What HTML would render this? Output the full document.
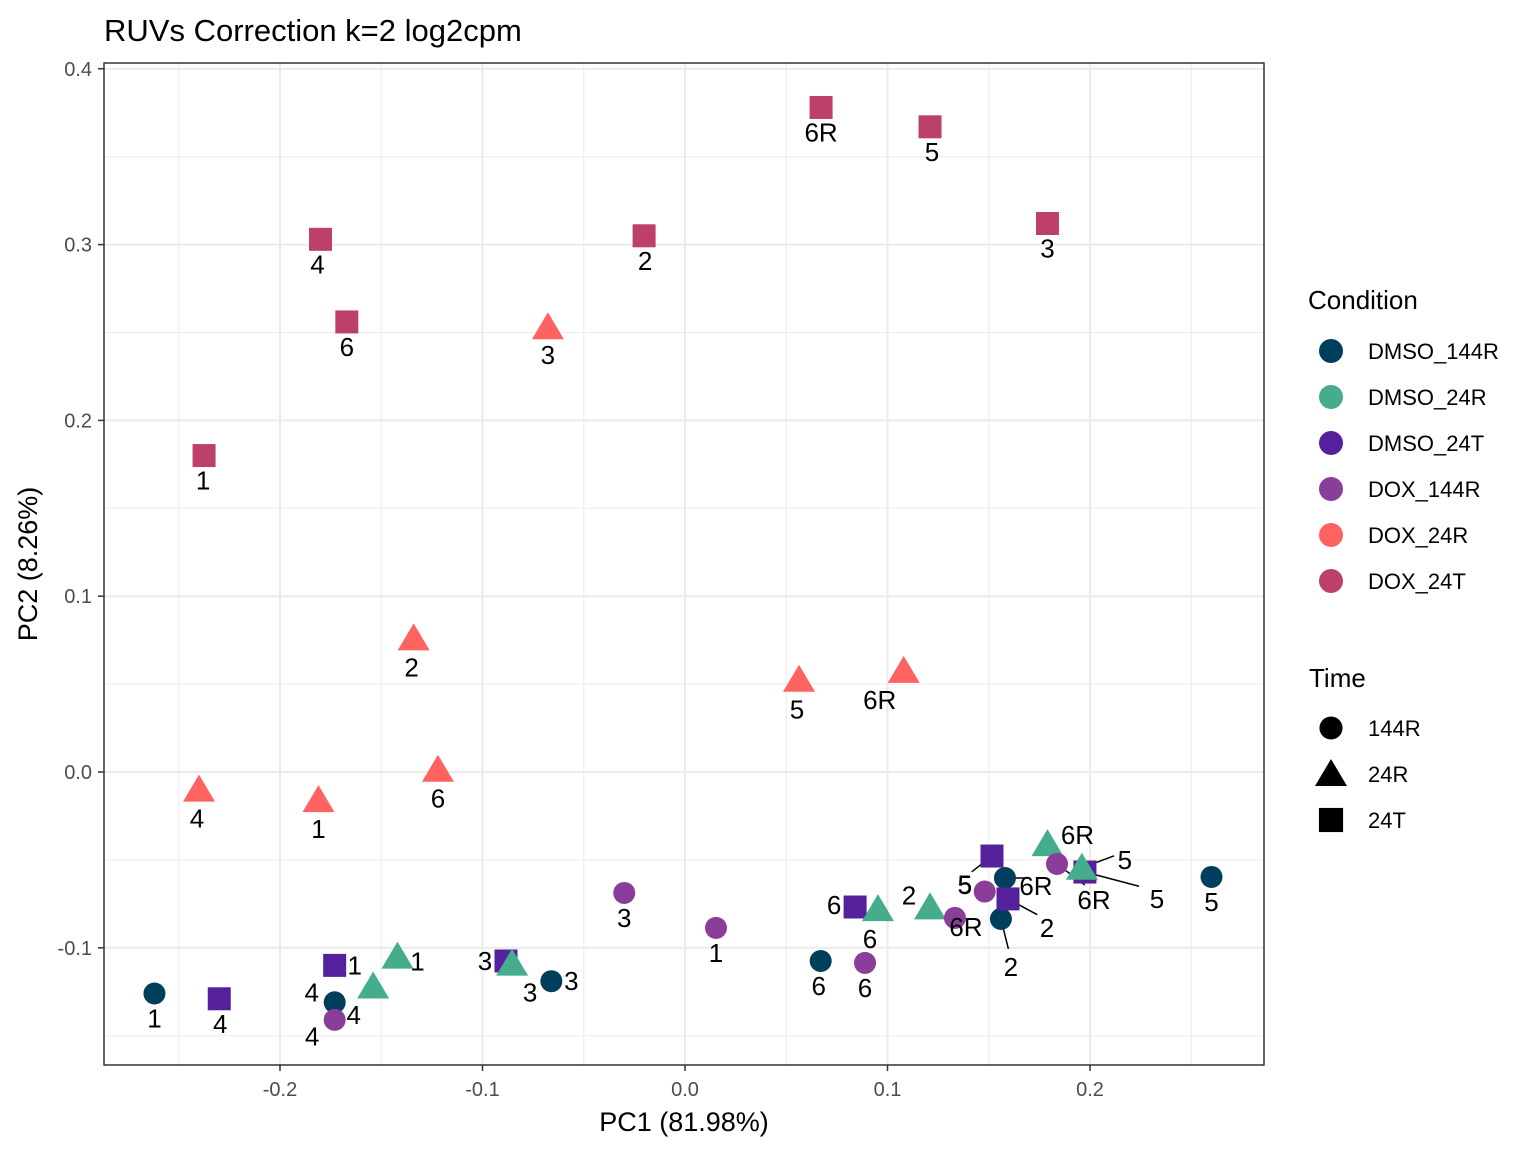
<!DOCTYPE html>
<html><head><meta charset="utf-8"><style>
body{margin:0;background:#fff}
svg{display:block;font-family:"Liberation Sans",Arial,sans-serif}
</style></head><body>
<svg id="chart" width="1536" height="1152" viewBox="0 0 1536 1152">
<rect x="0" y="0" width="1536" height="1152" fill="#fff"/>
<text x="104" y="41" font-size="31" fill="#000">RUVs Correction k=2 log2cpm</text>
<g id="grid"></g>
<g id="marks"></g>
<rect x="104" y="63" width="1160" height="1002" fill="none" stroke="#333" stroke-width="1.5"/>
<g id="axes"></g>
<text x="684" y="1131" font-size="27" text-anchor="middle">PC1 (81.98%)</text>
<text transform="translate(37,564) rotate(-90)" font-size="27" text-anchor="middle">PC2 (8.26%)</text>
<g id="legend"></g>
</svg>
<script>
const groups=["DMSO_144R","DMSO_24R","DMSO_24T","DOX_144R","DOX_24R","DOX_24T"];
const groupColors=["#003f5c","#45ac8e","#55209b","#8a3e9a","#ff6361","#bc4067"];
const times=["144R","24R","24T"];
const xTicks=[-0.2,-0.1,0.0,0.1,0.2];
const xTickLabels=["-0.2","-0.1","0.0","0.1","0.2"];
const yTicks=[0.4,0.3,0.2,0.1,0.0,-0.1];
const yTickLabels=["0.4","0.3","0.2","0.1","0.0","-0.1"];
const ptGroup=[5,5,5,5,5,5,5, 4,4,4,4,4,4,4, 0,0,0,0,0,0,0, 2,2,2,2,2,2,2, 1,1,1,1,1,1,1, 3,3,3,3,3,3,3];
const pc1=[0.0672,0.121,0.179,-0.0202,-0.180,-0.167,-0.2375,
 -0.0677,-0.134,0.0563,0.108,-0.240,-0.181,-0.122,
 -0.262,-0.173,-0.066,0.067,0.156,0.158,0.260,
 -0.173,-0.230,-0.0884,0.084,0.1516,0.1595,0.1975,
 -0.142,-0.154,-0.0854,0.0953,0.121,0.179,0.196,
 -0.173,-0.030,0.0153,0.0889,0.1333,0.148,0.1837];
const pc2=[0.378,0.367,0.312,0.305,0.303,0.256,0.180,
 0.253,0.076,0.0525,0.0575,-0.010,-0.016,0.0013,
 -0.126,-0.131,-0.119,-0.1075,-0.0836,-0.0603,-0.0597,
 -0.110,-0.129,-0.1075,-0.0768,-0.0478,-0.0722,-0.0569,
 -0.105,-0.122,-0.109,-0.078,-0.077,-0.041,-0.0545,
 -0.141,-0.0688,-0.0887,-0.1086,-0.083,-0.068,-0.0523];
const ptLabels=["6R","5","3","2","4","6","1",
 "3","2","5","6R","4","1","6",
 "1","4","3","6","2","6R","5",
 "1","4","3","6","5","2","5",
 "1","4","3","6","2","6R","5",
 "4","3","1","6","6R","5","6R"];
// label offsets (px) relative to mark centre, and whether a leader segment is drawn
const lblDX=[0,2,0,1,-3,0,-1, 0,-2,-2,-24,-2,0,0, 0,-23,20,-2,10,31,0, 20,1,-21,-21,-27,39,72, 20,-61,18,-8,-21,30,43, 19,0,0,0,11,-20,37];
const lblDY=[25,25,25,25,25,25,25, 28,29,30,29,29,29,29, 25,-10,0,25,48,8,25, 0,25,0,-2,29,29,27, 5,50,29,30,-12,-9,-8, -5,25,25,25,9,-7,36];
const lblSeg=[0,0,0,0,0,0,0, 0,0,0,0,0,0,0, 0,0,0,0,1,1,0, 0,0,0,0,1,1,1, 0,0,0,0,0,0,1, 0,0,0,0,1,0,1];
const NS="http://www.w3.org/2000/svg";
const sx=v=>685+v*2025;
const sy=v=>772-v*1758;
function mk(tag,attrs,parent){const e=document.createElementNS(NS,tag);for(const k in attrs)e.setAttribute(k,attrs[k]);parent.appendChild(e);return e;}
const grid=document.getElementById('grid'),axes=document.getElementById('axes'),marks=document.getElementById('marks'),legend=document.getElementById('legend');
for(let v=-0.25;v<=0.26;v+=0.1){const x=sx(v);if(x>104&&x<1264){const l=mk('line',{x1:x,x2:x,y1:63,y2:1065,stroke:'#ebebeb','stroke-width':1},grid);

}}
for(let v=-0.15;v<=0.36;v+=0.1){const y=sy(v);const l=mk('line',{x1:104,x2:1264,y1:y,y2:y,stroke:'#ebebeb','stroke-width':1},grid);

}
xTicks.forEach((v,i)=>{const x=sx(v);
const l=mk('line',{x1:x,x2:x,y1:63,y2:1065,stroke:'#ebebeb','stroke-width':2},grid);


const t=mk('line',{x1:x,x2:x,y1:1065,y2:1071,stroke:'#333','stroke-width':1.5},axes);


const tx=mk('text',{x:x,y:1096,'font-size':20,fill:'#4d4d4d','text-anchor':'middle'},axes);tx.textContent=xTickLabels[i];

});
yTicks.forEach((v,i)=>{const y=sy(v);
const l=mk('line',{x1:104,x2:1264,y1:y,y2:y,stroke:'#ebebeb','stroke-width':2},grid);


const t=mk('line',{x1:98,x2:104,y1:y,y2:y,stroke:'#333','stroke-width':1.5},axes);


const tx=mk('text',{x:92,y:y+7,'font-size':20,fill:'#4d4d4d','text-anchor':'end'},axes);tx.textContent=yTickLabels[i];

});
function shape(t,x,y,c,parent,s){s=s||1;let e;
if(t===0)e=mk('circle',{cx:x,cy:y,r:11*s,fill:c},parent);
else if(t===1)e=mk('polygon',{points:`${x},${y-15*s} ${x-16*s},${y+12*s} ${x+16*s},${y+12*s}`,fill:c},parent);
else e=mk('rect',{x:x-11.5*s,y:y-11.5*s,width:23*s,height:23*s,fill:c},parent);return e;}
const timeOf=g=>[0,1,2,0,1,2][g];
pc1.forEach((v,i)=>{if(!lblSeg[i])return;const x=sx(v),y=sy(pc2[i]);
const s=mk('line',{x1:x,y1:y,x2:x+lblDX[i]*0.75,y2:y+(lblDY[i]-8)*0.75,stroke:'#000','stroke-width':1.5},marks);

});
pc1.forEach((v,i)=>{const g=ptGroup[i],x=sx(v),y=sy(pc2[i]);
const e=shape(timeOf(g),x,y,groupColors[g],marks);

});
pc1.forEach((v,i)=>{const x=sx(v),y=sy(pc2[i]);
const t=mk('text',{x:x+lblDX[i],y:y+lblDY[i]+9,'font-size':26,'text-anchor':'middle',fill:'#000'},marks);t.textContent=ptLabels[i];

});
const lt=mk('text',{x:1308,y:309,'font-size':26},legend);lt.textContent='Condition';


groups.forEach((g,i)=>{const y=351+i*46;
const c=mk('circle',{cx:1331,cy:y,r:12,fill:groupColors[i]},legend);


const t=mk('text',{x:1368,y:y+8,'font-size':22},legend);t.textContent=g;

});
const tt=mk('text',{x:1309,y:687,'font-size':26},legend);tt.textContent='Time';


times.forEach((g,i)=>{const y=728+i*46;
const s=shape(i,1331,y,'#000',legend,i===1?1:1.05);


const t=mk('text',{x:1368,y:y+8,'font-size':22},legend);t.textContent=g;

});
</script>
</body></html>
